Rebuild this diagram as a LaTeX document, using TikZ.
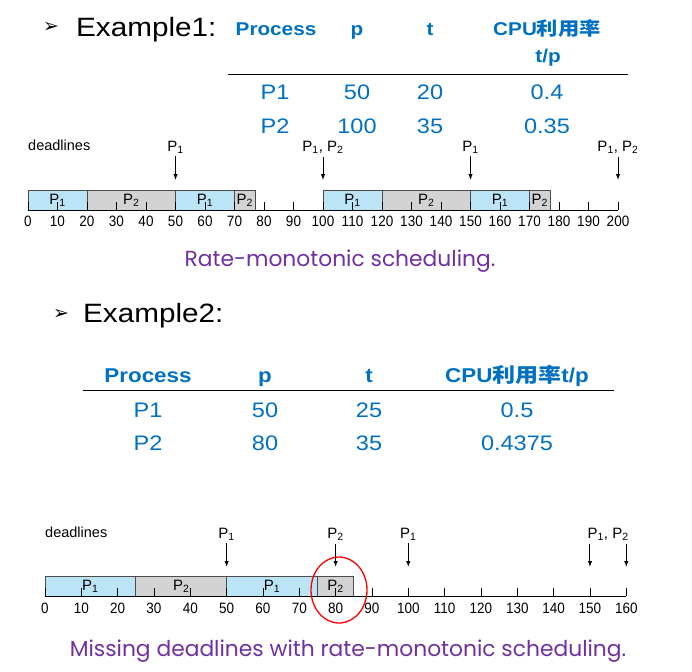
\documentclass[tikz,border=0pt]{standalone}
\usepackage{fontspec}
\setmainfont{Liberation Sans}[FakeStretch=1.12]
\newfontfamily\tlfont{Liberation Sans}
\newfontfamily\numfont{Liberation Sans}[FakeStretch=0.9]
\newfontfamily\capfont{Poppins}
\newfontfamily\cjkfont{Noto Sans CJK SC}[FakeStretch=1.15]
\newfontfamily\symfont{DejaVu Sans}
\usetikzlibrary{arrows.meta, positioning, shapes.geometric}

\definecolor{tblue}{RGB}{0,112,192}
\definecolor{cappurple}{RGB}{112,48,160}
\definecolor{pone}{RGB}{187,228,247}
\definecolor{ptwo}{RGB}{211,211,211}

\newcommand{\cpu}{CPU{\cjkfont 利用率}}
\newcommand{\Pn}[1]{P\textsubscript{#1}}

\begin{document}
\begin{tikzpicture}[x=1pt, y=-1pt,
		heading/.style={anchor=base west, inner sep=0pt, font=\fontsize{26.5}{30}\selectfont},
		bullet/.style={inner sep=0pt, font=\symfont\fontsize{19}{21}\selectfont},
		colhead/.style={anchor=base, inner sep=0pt, text=tblue, font=\bfseries\fontsize{18.5}{21}\selectfont},
		cell/.style={anchor=base, inner sep=0pt, text=tblue, font=\fontsize{21}{24}\selectfont},
		rule/.style={line width=0.9pt},
		caption/.style={anchor=base, inner sep=0pt, text=cappurple, font=\capfont\fontsize{21.8}{26}\selectfont},
		tl/.style={inner sep=0pt, font=\tlfont\fontsize{15}{17}\selectfont},
		num/.style={inner sep=0pt, font=\numfont\fontsize{15}{17}\selectfont},
		p1box/.style={draw=black!70, fill=pone, line width=0.8pt},
		p2box/.style={draw=black!70, fill=ptwo, line width=0.8pt},
		axis/.style={line width=1pt},
		tick/.style={line width=0.6pt},
		dlarrow/.style={line width=1pt, shorten <=3pt, -{Latex[length=6pt, width=4.5pt]}},
		miss/.style={ellipse, draw=red, line width=1.3pt, minimum width=56pt, minimum height=66pt, inner sep=0pt},
	]
	\useasboundingbox (0,0) rectangle (692,671);

	% --- Example 1: heading and table ---
	\node (bul1) [bullet] at (51,27) {➢};
	\node (ex1)  [heading] at (76,37) {Example1:};

	\node (h1proc) [colhead] at (276,36) {Process};
	\node (h1p)    [colhead] at (357,36) {p};
	\node (h1t)    [colhead] at (430,36) {t};
	\node (h1cpu)  [colhead] at (547,36) {\cpu};
	\node (h1tp)   [colhead] at (548,63) {t/p};
	\draw [rule] (228,74) -- (628,74);
	\foreach \name/\p/\t/\u [count=\i] in {P1/50/20/0.4, P2/100/35/0.35} {
		\node (a\i proc) [cell] at (275,66+34*\i) {\name};
		\node (a\i p)    [cell] at (357,66+34*\i) {\p};
		\node (a\i t)    [cell] at (430,66+34*\i) {\t};
		\node (a\i u)    [cell] at (547,66+34*\i) {\u};
	}

	% --- Example 1: rate-monotonic timeline ---
	\node (dla) [tl, font=\tlfont\fontsize{14.5}{16}\selectfont, anchor=west] at (28,145) {deadlines};
	\begin{scope}[shift={(28,210)}, x=2.95pt]
		\foreach \a/\b/\s/\n in {0/20/p1box/1, 20/50/p2box/2, 50/70/p1box/1, 70/77/p2box/2,
				100/120/p1box/1, 120/150/p2box/2, 150/170/p1box/1, 170/177/p2box/2} {
			\draw [\s] (\a,-20) rectangle (\b,0);
			\node (ba\a) [tl] at ({(\a+\b)/2},-9.5) {\Pn{\n}};
		}
		\foreach \t in {0,10,...,200} {
			\draw [tick] (\t,-8) -- (\t,0);
			\node (na\t) [num] at (\t,11) {\t};
		}
		\draw [axis] (0,0) -- (200,0);

		% deadlines
		\node (da50)  [tl, anchor=base] at (50,-59)  {\Pn{1}};
		\node (da100) [tl, anchor=base] at (100,-59) {\Pn{1}, \Pn{2}};
		\node (da150) [tl, anchor=base] at (150,-59) {\Pn{1}};
		\begin{scope}
			\clip (185,-80) rectangle (206.1,-50);
			\node (da200) [tl, anchor=base] at (200,-59) {\Pn{1}, \Pn{2}};
		\end{scope}
		\foreach \t in {50,100,150,200} {
			\coordinate (ta\t) at (\t,-30);
			\draw [dlarrow] (da\t.south -| ta\t) -- (ta\t);
		}
	\end{scope}
	\node (cap1) [caption] at (340,266) {Rate-monotonic scheduling.};

	% --- Example 2: heading and table ---
	\node (bul2) [bullet] at (61,314) {➢};
	\node (ex2)  [heading] at (83,322) {Example2:};

	\node (h2proc) [colhead, font=\bfseries\fontsize{20}{22}\selectfont] at (148,382) {Process};
	\node (h2p)    [colhead, font=\bfseries\fontsize{20}{22}\selectfont] at (265,382) {p};
	\node (h2t)    [colhead, font=\bfseries\fontsize{20}{22}\selectfont] at (369,382) {t};
	\node (h2cpu)  [colhead, font=\bfseries\fontsize{20}{22}\selectfont] at (517,382) {\cpu t/p};
	\draw [rule] (83,390) -- (614,390);
	\foreach \name/\p/\t/\u [count=\i] in {P1/50/25/0.5, P2/80/35/0.4375} {
		\node (b\i proc) [cell] at (148,384+33*\i) {\name};
		\node (b\i p)    [cell] at (265,384+33*\i) {\p};
		\node (b\i t)    [cell] at (369,384+33*\i) {\t};
		\node (b\i u)    [cell] at (517,384+33*\i) {\u};
	}

	% --- Example 2: missed deadline timeline ---
	\node (dlb) [tl, font=\tlfont\fontsize{14.5}{16}\selectfont, anchor=west] at (45,532) {deadlines};
	\begin{scope}[shift={(45,596)}, x=3.633pt]
		\foreach \a/\b/\s/\n in {0/25/p1box/1, 25/50/p2box/2, 50/75/p1box/1, 75/85/p2box/2} {
			\draw [\s] (\a,-20) rectangle (\b,0);
			\node (bb\a) [tl] at ({(\a+\b)/2},-9.5) {\Pn{\n}};
		}
		\foreach \t in {0,10,...,160} {
			\draw [tick] (\t,-8) -- (\t,0);
			\node (nb\t) [num] at (\t,12) {\t};
		}
		\draw [axis] (0,0) -- (160,0);

		% deadlines
		\node (db50)  [tl, anchor=base] at (50,-58)  {\Pn{1}};
		\node (db80)  [tl, anchor=base] at (80,-58)  {\Pn{2}};
		\node (db100) [tl, anchor=base] at (100,-58) {\Pn{1}};
		\node (db155) [tl, anchor=base] at (155,-58) {\Pn{1}, \Pn{2}};
		\foreach \t/\l in {50/50, 80/80, 100/100, 150/155, 160/155} {
			\coordinate (tb\t) at (\t,-29);
			\draw [dlarrow] (db\l.south -| tb\t) -- (tb\t);
		}
	\end{scope}
	\node (missed) [miss] at (339,590) {};
	\node (cap2) [caption] at (348,656) {Missing deadlines with rate-monotonic scheduling.};

\end{tikzpicture}
\end{document}
